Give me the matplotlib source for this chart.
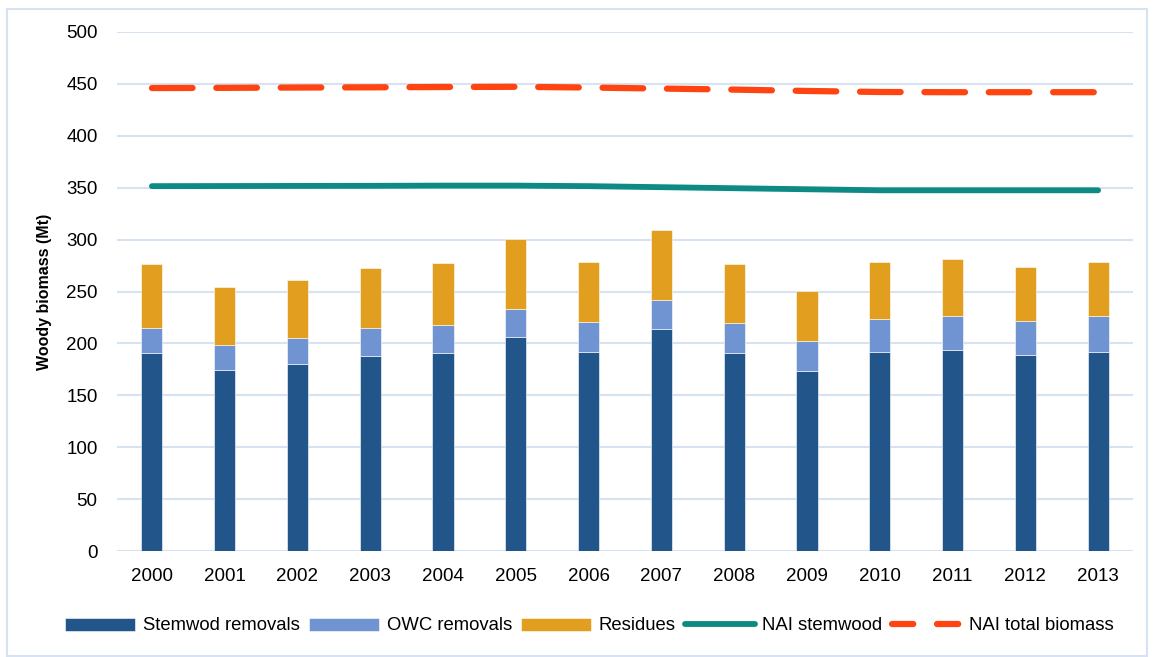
import numpy as np
import matplotlib.pyplot as plt
from matplotlib.patches import Rectangle
from matplotlib.lines import Line2D

plt.rcParams['font.family'] = ['Liberation Sans', 'DejaVu Sans']

years = ['2000', '2001', '2002', '2003', '2004', '2005', '2006',
         '2007', '2008', '2009', '2010', '2011', '2012', '2013']
stemwood = [190.4, 174.7, 179.8, 187.9, 191.0, 206.5, 191.7,
            213.6, 190.4, 173.1, 192.0, 193.3, 188.5, 191.4]
owc = [24.1, 24.0, 25.1, 26.6, 26.4, 26.9, 28.6,
       27.9, 29.0, 29.5, 31.2, 32.8, 33.4, 35.0]
residues = [61.7, 55.3, 56.1, 58.1, 59.8, 66.9, 57.8,
            67.7, 57.1, 48.2, 54.9, 54.9, 51.4, 51.7]
nai_stem = [351.5, 351.6, 351.7, 351.8, 352.0, 352.0, 351.5,
            350.5, 349.5, 348.5, 347.5, 347.5, 347.5, 347.5]
nai_total = [446.0, 446.2, 446.5, 446.7, 447.0, 447.2, 446.5,
             445.5, 444.5, 443.2, 442.2, 442.0, 442.0, 442.0]

c_stem = '#22568A'
c_owc = '#7094D2'
c_res = '#E19E1F'
c_nai = '#0E8A85'
c_tot = '#FF4411'
c_grid = '#D6E3F3'

x = np.arange(len(years))
stemwood = np.array(stemwood)
owc = np.array(owc)
residues = np.array(residues)

fig = plt.figure(figsize=(11.54, 6.57), dpi=100)
ax = fig.add_axes([117/1154, 1 - 551/657, 1016/1154, 519/657])

w = 0.29
b1 = ax.bar(x, stemwood, w, color=c_stem, edgecolor='#ffffff', linewidth=0.4,
            label='Stemwod removals', zorder=3)
b2 = ax.bar(x, owc, w, bottom=stemwood, color=c_owc, edgecolor='#ffffff',
            linewidth=0.4, label='OWC removals', zorder=3)
b3 = ax.bar(x, residues, w, bottom=stemwood + owc, color=c_res, edgecolor='#ffffff',
            linewidth=0.4, label='Residues', zorder=3)
l1, = ax.plot(x, nai_stem, color=c_nai, lw=4.2, solid_capstyle='round',
              label='NAI stemwood', zorder=4)
l2, = ax.plot(x, nai_total, color=c_tot, lw=4.5, dashes=(6.5, 3.8),
              dash_capstyle='round', label='NAI total biomass', zorder=4)
# proxy so the legend shows two short dashes like the original
l2_leg = Line2D([], [], color=c_tot, lw=4.5, dashes=(3.4, 3.8),
                dash_capstyle='round')

ax.set_xlim(-0.48, 13.48)
ax.set_ylim(0, 500)
ax.set_yticks(range(0, 501, 50))
ax.set_xticks(x)
ax.set_xticklabels(years)
ax.tick_params(length=0, labelsize=13.5, colors='#000000')
ax.tick_params(axis='x', pad=12)
ax.tick_params(axis='y', pad=14)
ax.grid(axis='y', color=c_grid, lw=1.5, zorder=0)
for s in ax.spines.values():
    s.set_visible(False)
ax.set_ylabel('Woody biomass (Mt)', fontsize=11.5, fontweight='bold', labelpad=10)

fig.legend([b1, b2, b3, l1, l2_leg],
           ['Stemwod removals', 'OWC removals', 'Residues', 'NAI stemwood',
            'NAI total biomass'],
           loc='center', bbox_to_anchor=(0.511, 1 - 626/657), ncol=5,
           frameon=False, fontsize=13.3, handlelength=3.8, handletextpad=0.4,
           columnspacing=0.5)

fig.patches.append(Rectangle((7/1154, 0.002), 1 - 14/1154, 1 - 9/657 - 0.002,
                             transform=fig.transFigure, fill=False,
                             edgecolor=c_grid, lw=1.5))

fig.savefig('out.png', dpi=100)
